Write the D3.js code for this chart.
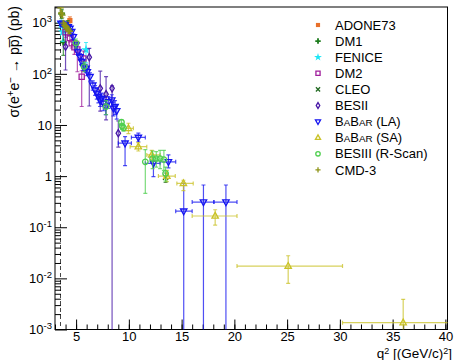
<!DOCTYPE html>
<html><head><meta charset="utf-8">
<script src="https://cdn.jsdelivr.net/npm/d3@7"></script>
<style>
body{margin:0;background:#fff}
svg{display:block}
text{font-family:"Liberation Sans",Arial,Helvetica,sans-serif;fill:#000}
</style>
</head><body>
<svg id="c" width="456" height="360"></svg>
<script>
// ---------------- data ----------------
const xTickValues = [5, 10, 15, 20, 25, 30, 35, 40];
const xMinorValues = d3.range(3, 41, 1);
const yTickExponents = [-3, -2, -1, 0, 1, 2, 3];
const thresholdQ2 = 3.52;

// rows: [q2, sigma, sigmaLow, sigmaHigh, q2Low, q2High]   (sigmaLow 0 = below axis)
const ADONE73 = [[4.41, 1100, 900, 1300]];
const DM1 = [[3.63, 1500, 1200, 1800], [3.79, 420, 230, 720], [4.2, 900, 700, 1100], [4.41, 700, 550, 850]];
const FENICE = [[3.61, 950, 800, 1100], [3.73, 660, 430, 800], [5.94, 295, 165, 410]];
const DM2 = [[4.0, 650, 520, 780], [4.41, 500, 420, 580], [4.58, 395, 320, 470], [4.84, 330, 240, 420],
             [5.12, 300, 110, 430], [5.69, 200, 110, 280], [5.53, 88, 23, 115]];
const CLEO = [[13.48, 0.95, 0.75, 1.15]];
const BESII = [[4.0, 340, 119, 660], [6.25, 211, 23.5, 316], [7.29, 52, 18.6, 113], [7.84, 40, 12.6, 88],
               [8.41, 52, 0, 58], [9.0, 6.9, 3.7, 12]];
const BABAR_LA = [
  [3.56, 973, 880, 1070], [3.76, 944, 860, 1030], [3.95, 902, 830, 980], [4.26, 835, 760, 910],
  [4.42, 776, 700, 850], [4.58, 667, 600, 740], [4.74, 532, 470, 600], [5.0, 366, 320, 410],
  [5.18, 267, 230, 305], [5.37, 216, 185, 250], [5.53, 173, 148, 200], [5.68, 138, 117, 160],
  [5.94, 128, 108, 150], [6.06, 110, 92, 130], [6.32, 88, 72, 105], [6.58, 60, 48, 73],
  [6.8, 48, 38, 59], [6.96, 41.6, 32, 52], [7.11, 35.7, 27, 45], [7.27, 30.8, 23, 39],
  [7.43, 33, 25, 42], [7.58, 26.5, 19, 34], [7.81, 22.8, 16, 30], [8.06, 28.5, 21, 36],
  [8.38, 30.8, 23, 39], [8.53, 21.2, 15, 28], [8.69, 22.8, 16, 30], [8.85, 19, 13, 25],
  [9.64, 4.4, 1.6, 5.9, 9.0, 10.24], [10.9, 5.7, 4.7, 6.9, 10.24, 11.56],
  [12.33, 1.78, 0.98, 2.3, 11.56, 12.96], [13.75, 1.9, 1.45, 2.6, 12.96, 14.44],
  [15.2, 0.206, 0, 0.72, 14.44, 16.0], [17.07, 0.31, 0, 0.67, 16.0, 18.06],
  [19.2, 0.31, 0, 0.67, 18.06, 20.25]];
const BABAR_SA = [
  [9.96, 8.6, 6.8, 10.8, 9.33, 10.43], [10.9, 3.76, 3.1, 4.5, 10.12, 11.7],
  [12.17, 2.6, 2.1, 3.2, 11.7, 12.96], [13.6, 1.0, 0.78, 1.3, 12.8, 14.4],
  [15.17, 0.72, 0.52, 0.83, 14.55, 16.1], [18.18, 0.166, 0.11, 0.22, 16.0, 20.25],
  [25.1, 0.0174, 0.008, 0.0277, 20.25, 30.25], [36.0, 0.00136, 0, 0.0039, 30.25, 42.25]];
const BESIII = [[4.98, 400, 320, 480], [5.76, 138, 110, 170], [7.84, 22.8, 16, 30],
  [9.30, 11.3, 9.8, 12.8], [9.36, 9.5, 8.2, 10.8], [9.49, 8.8, 7.6, 10.0],
  [11.56, 1.9, 0.46, 3.3], [12.25, 2.2, 1.4, 3.1], [12.60, 2.2, 1.5, 3.0],
  [12.96, 2.2, 1.4, 3.2], [13.32, 2.1, 1.3, 3.2], [13.48, 1.13, 0.8, 1.5]];
const CMD3 = [[3.53, 1950, 1600, 2300], [3.6, 1530, 1350, 1700], [3.7, 1410, 1250, 1550],
  [3.8, 980, 880, 1080], [3.9, 900, 800, 1000], [4.0, 850, 760, 940], [4.1, 800, 720, 880],
  [4.2, 760, 680, 840], [4.3, 700, 630, 770], [4.4, 680, 610, 750]];

const legendLabels = ["ADONE73", "DM1", "FENICE", "DM2", "CLEO", "BESII", "BaBar (LA)", "BaBar (SA)", "BESIII (R-Scan)", "CMD-3"];
const seriesData = [ADONE73, DM1, FENICE, DM2, CLEO, BESII, BABAR_LA, BABAR_SA, BESIII, CMD3];
const seriesColors = ["#e8702a", "#1e7d1e", "#1ee6f5", "#a01e9c", "#236b23", "#4616a6", "#1414f0", "#c9c227", "#4fcf4f", "#8f9418"];
const seriesShapes = ["fsquare", "fcross", "star", "osquare", "x", "odiamond", "otridown", "otri", "ocircle", "plus"];

// ---------------- layout ----------------
const L = 55, R = 447.5, T = 7, B = 329.5;
const svg = d3.select("#c");
const x = d3.scaleLinear().domain([3, 40.2]).range([L, R]);
const y = d3.scaleLog().domain([1e-3, 2030]).range([B, T]);

svg.append("rect").attr("width", 456).attr("height", 360).attr("fill", "#fff");
svg.append("defs").append("clipPath").attr("id", "clip")
  .append("rect").attr("x", L).attr("y", T).attr("width", R - L).attr("height", B - T);

// threshold dashed line
svg.append("line").attr("x1", x(thresholdQ2)).attr("x2", x(thresholdQ2))
  .attr("y1", T).attr("y2", B).attr("stroke", "#444").attr("stroke-width", 1)
  .attr("stroke-dasharray", "4,3");

// axes
const gx = svg.append("g").attr("transform", `translate(0,${B})`);
gx.call(d3.axisBottom(x).tickValues(xMinorValues).tickSizeInner(-5).tickSizeOuter(0).tickFormat(""));
gx.append("g").call(d3.axisBottom(x).tickValues(xTickValues).tickSizeInner(-10).tickSizeOuter(0).tickPadding(2).tickFormat(d3.format("d")));
gx.selectAll("path.domain").remove();
gx.selectAll("line").attr("stroke", "#000");
gx.selectAll("text").attr("font-size", 13).attr("font-family", "Liberation Sans, Arial, sans-serif").attr("fill", "#000");

const decades = yTickExponents.map(e => Math.pow(10, e));
const minors = [];
yTickExponents.forEach(e => { for (let k = 2; k <= 9; k++) { const v = k * Math.pow(10, e); if (v <= 2030) minors.push(v); } });
const gy = svg.append("g").attr("transform", `translate(${L},0)`);
gy.call(d3.axisLeft(y).tickValues(minors).tickSizeInner(-6).tickSizeOuter(0).tickFormat(""));
const gyMaj = gy.append("g").call(d3.axisLeft(y).tickValues(decades).tickSizeInner(-12).tickSizeOuter(0).tickPadding(3).tickFormat(""));
gy.selectAll("path.domain").remove();
gy.selectAll("line").attr("stroke", "#000");
gyMaj.selectAll(".tick text").each(function(d) {
  const e = Math.round(Math.log10(d));
  const t = d3.select(this).attr("font-size", 13).attr("font-family", "Liberation Sans, Arial, sans-serif").attr("fill", "#000");
  t.text(null);
  if (e === 0) t.append("tspan").text("1");
  else if (e === 1) t.append("tspan").text("10");
  else {
    t.append("tspan").text("10");
    t.append("tspan").attr("font-size", 9.5).attr("dy", -5).text(String(e));
  }
});

// frame
svg.append("rect").attr("x", L).attr("y", T).attr("width", R - L).attr("height", B - T)
  .attr("fill", "none").attr("stroke", "#000").attr("stroke-width", 1);

// ---------------- markers ----------------
function markerPath(shape, k) {
  const s = k || 1;
  switch (shape) {
    case "osquare": case "fsquare": return `M${-2.6*s},${-2.6*s}H${2.6*s}V${2.6*s}H${-2.6*s}Z`;
    case "otri": return `M0,${-3.6*s}L${3.2*s},${2.2*s}L${-3.2*s},${2.2*s}Z`;
    case "otridown": return `M0,${3.6*s}L${3.2*s},${-2.2*s}L${-3.2*s},${-2.2*s}Z`;
    case "ocircle": return d3.symbol(d3.symbolCircle, 24 * s * s)();
    case "odiamond": return `M0,${-3.6*s}L${2.2*s},0L0,${3.6*s}L${-2.2*s},0Z`;
    case "star": return d3.symbol(d3.symbolStar, 30 * s * s)();
    case "fcross": return d3.symbol(d3.symbolCross, 26 * s * s)();
    case "x": return `M${-2.6*s},${-2.6*s}L${2.6*s},${2.6*s}M${-2.6*s},${2.6*s}L${2.6*s},${-2.6*s}`;
    case "plus": return `M${-3.2*s},0H${3.2*s}M0,${-3.2*s}V${3.2*s}`;
  }
}
const filled = s => s === "fsquare" || s === "star" || s === "fcross";
function styleMarker(sel, shape, color) {
  if (filled(shape)) sel.attr("fill", color).attr("stroke", "none");
  else sel.attr("fill", "none").attr("stroke", color).attr("stroke-width", 1.3);
}

// ---------------- data drawing ----------------
const plot = svg.append("g").attr("clip-path", "url(#clip)");
const cap = 2;
seriesData.forEach((data, i) => {
  const color = seriesColors[i], shape = seriesShapes[i];
  const g = plot.append("g");
  const eg = g.append("g").attr("stroke", color).attr("stroke-width", 1.2).attr("stroke-opacity", 0.75).attr("fill", "none");
  data.forEach(r => {
    const [q, s, lo, hi, qlo, qhi] = r;
    const px = x(q);
    const yLo = lo > 0 ? y(lo) : B + 5;
    const yHi = y(hi);
    eg.append("line").attr("x1", px).attr("x2", px).attr("y1", yLo).attr("y2", yHi);
    eg.append("line").attr("x1", px - cap).attr("x2", px + cap).attr("y1", yHi).attr("y2", yHi);
    if (lo > 0) eg.append("line").attr("x1", px - cap).attr("x2", px + cap).attr("y1", yLo).attr("y2", yLo);
    if (qlo !== undefined) {
      const py = y(s);
      eg.append("line").attr("x1", x(qlo)).attr("x2", x(qhi)).attr("y1", py).attr("y2", py);
      eg.append("line").attr("x1", x(qlo)).attr("x2", x(qlo)).attr("y1", py - cap).attr("y2", py + cap);
      eg.append("line").attr("x1", x(qhi)).attr("x2", x(qhi)).attr("y1", py - cap).attr("y2", py + cap);
    }
  });
  g.selectAll("path.m").data(data).join("path").attr("class", "m")
    .attr("d", markerPath(shape))
    .attr("transform", d => `translate(${x(d[0])},${y(d[1])})`)
    .call(styleMarker, shape, color);
});

// ---------------- legend ----------------
const lg = svg.append("g");
legendLabels.forEach((lab, i) => {
  const cy = 25 + i * 16.1;
  lg.append("path").attr("d", markerPath(seriesShapes[i], 0.8))
    .attr("transform", `translate(318,${cy})`).call(styleMarker, seriesShapes[i], seriesColors[i]);
  const t = lg.append("text").attr("x", 335).attr("y", cy + 4.6).attr("font-size", 13);
  if (lab.startsWith("BaBar")) {
    t.append("tspan").text("B");
    t.append("tspan").attr("font-size", 9.8).text("A");
    t.append("tspan").text("B");
    t.append("tspan").attr("font-size", 9.8).text("AR");
    t.append("tspan").text(lab.slice(5));
  } else t.text(lab);
});

// ---------------- titles ----------------
const yt = svg.append("text").attr("transform", "translate(18.5,6) rotate(-90)")
  .attr("text-anchor", "end").attr("font-size", 14);
yt.append("tspan").text("σ(e");
yt.append("tspan").attr("font-size", 10).attr("dy", -5).text("+");
yt.append("tspan").attr("dy", 5).text("e");
yt.append("tspan").attr("font-size", 10).attr("dy", -5).text("−");
yt.append("tspan").attr("dy", 5).text(" \u2192 p");
yt.append("tspan").text("p\u0305");
yt.append("tspan").text(") (pb)");

const xt = svg.append("text").attr("x", 452).attr("y", 358).attr("text-anchor", "end").attr("font-size", 13.5);
xt.append("tspan").text("q");
xt.append("tspan").attr("font-size", 9).attr("dy", -4).text("2");
xt.append("tspan").attr("dy", 4).text(" [(GeV/c)");
xt.append("tspan").attr("font-size", 9).attr("dy", -4).text("2");
xt.append("tspan").attr("dy", 4).text("]");
</script>
</body></html>
